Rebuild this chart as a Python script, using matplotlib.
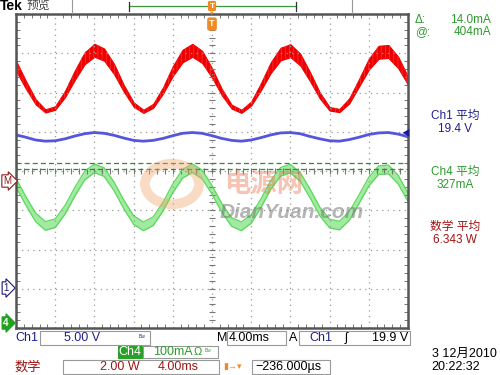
import numpy as np
import matplotlib
matplotlib.use("Agg")
import matplotlib.pyplot as plt
from matplotlib.patches import Rectangle, Circle

plt.rcParams['font.family'] = ['Liberation Sans', 'Noto Sans CJK SC', 'DejaVu Sans']
plt.rcParams['hatch.linewidth'] = 0.5

# time axis in divisions (4.00ms/div), one sample every 0.25 div
t_div = [i * 0.25 for i in range(41)]

# Ch1 trace (red, noisy band) upper / lower edge, in divisions
red_hi = [2.81, 2.30, 1.83, 1.57, 1.65, 2.04, 2.56, 3.02, 3.24, 3.12, 2.73,
          2.19, 1.75, 1.56, 1.71, 2.13, 2.67, 3.09, 3.24, 3.06, 2.62,
          2.09, 1.69, 1.56, 1.77, 2.24, 2.77, 3.14, 3.23, 2.99, 2.52,
          2.00, 1.63, 1.58, 1.85, 2.34, 2.86, 3.19, 3.21, 2.91, 2.40]
red_lo = [2.55, 2.10, 1.70, 1.49, 1.56, 1.88, 2.32, 2.72, 2.91, 2.81, 2.47,
          2.02, 1.64, 1.48, 1.61, 1.97, 2.42, 2.77, 2.91, 2.75, 2.38,
          1.93, 1.59, 1.48, 1.67, 2.06, 2.50, 2.82, 2.90, 2.69, 2.29,
          1.85, 1.54, 1.50, 1.72, 2.15, 2.58, 2.86, 2.88, 2.62, 2.20]

# blue trace
blue = [0.92, 0.86, 0.79, 0.76, 0.77, 0.82, 0.89, 0.95, 0.98, 0.96, 0.91,
        0.84, 0.78, 0.76, 0.78, 0.83, 0.90, 0.96, 0.98, 0.96, 0.90,
        0.83, 0.78, 0.76, 0.79, 0.85, 0.92, 0.97, 0.98, 0.95, 0.88,
        0.82, 0.77, 0.76, 0.80, 0.86, 0.93, 0.97, 0.98, 0.94, 0.87]

# Ch4 trace (green band) upper edge; lower edge 0.22 div below
green_hi = [-0.19, -0.65, -1.07, -1.29, -1.22, -0.88, -0.42, -0.01, 0.18, 0.08, -0.28,
            -0.74, -1.14, -1.30, -1.17, -0.80, -0.33, 0.04, 0.18, 0.02, -0.37,
            -0.83, -1.19, -1.30, -1.11, -0.71, -0.24, 0.09, 0.17, -0.04, -0.46,
            -0.92, -1.23, -1.28, -1.04, -0.61, -0.16, 0.13, 0.15, -0.11, -0.56]
green_lo = [v - 0.22 for v in green_hi]

cursor_levels = [0.20, 0.06]

W, H = 500, 375
fig = plt.figure(figsize=(5, 3.75), dpi=100)
fig.patch.set_facecolor('white')


def px(x, y):
    return x / W, 1 - y / H


def txt(x, y, s, **kw):
    kw.setdefault('va', 'center')
    kw.setdefault('ha', 'left')
    fig.text(x / W, 1 - y / H, s, **kw)


ax = fig.add_axes([16 / W, 1 - 328 / H, 392 / W, 314 / H])
ax.set_xlim(0, 10)
ax.set_ylim(-4, 4)
ax.set_xticks(np.arange(0, 11, 1))
ax.set_yticks(np.arange(-4, 5, 1))
ax.set_xticks(np.arange(0, 10.01, 0.2), minor=True)
ax.set_yticks(np.arange(-4, 4.01, 0.2), minor=True)
ax.tick_params(which='both', direction='in', top=True, right=True,
               labelbottom=False, labelleft=False, color='#777777')
ax.tick_params(which='major', length=0)
ax.tick_params(which='minor', length=3, width=0.7)
ax.grid(True, which='major', color='#999999', linestyle=(0, (1, 3.5)), linewidth=0.9)
for s in ax.spines.values():
    s.set_color('#555555')
    s.set_linewidth(1.8)

# centre crosshair tick marks
cx = np.arange(0, 10.01, 0.2)
cy = np.arange(-4, 4.01, 0.2)
ax.plot(cx, np.zeros_like(cx), '|', color='#777777', ms=4, mew=0.8)
ax.plot(np.full_like(cy, 5.0), cy, '_', color='#777777', ms=4, mew=0.8)

# watermark
ring = Circle(px(172, 184), 27 / W, transform=fig.transFigure, fill=False,
              ec='#f2a36b', lw=7, alpha=0.4)
fig.patches.append(ring)
txt(264, 185, '电源网', ha='center', fontsize=19, color='#ee7a55', alpha=0.45,
    fontweight='bold', style='italic')
txt(292, 212, 'DianYuan.com', ha='center', fontsize=15, color='#777777', alpha=0.55,
    fontweight='bold', style='italic')

# traces
ax.fill_between(t_div, red_lo, red_hi, color='#ee0000', lw=0.8, ec='#ee0000')
ax.fill_between(t_div, red_lo, red_hi, fc='none', ec='#ff3a3a', lw=0, hatch='||||')
ax.plot(t_div, blue, color='#5555dd', lw=2)
ax.fill_between(t_div, green_lo, green_hi, color='#a2eaa2', lw=0)
ax.plot(t_div, green_hi, color='#5ad85a', lw=0.9)
ax.plot(t_div, green_lo, color='#5ad85a', lw=0.9)
for lvl in cursor_levels:
    ax.axhline(lvl, color='#2e8b2e', ls=(0, (4, 2.5)), lw=0.9)

# trigger marker inside plot
txt(212, 24, 'T', ha='center', fontsize=6.5, color='white', fontweight='bold',
    bbox=dict(boxstyle='round,pad=0.15', fc='#f08a24', ec='#f08a24'))

# left channel markers
txt(7, 181, 'M', ha='center', fontsize=7, color='#8b1a1a',
    bbox=dict(boxstyle='rarrow,pad=0.12', fc='white', ec='#8b1a1a', lw=0.8))
txt(6, 288, '1', ha='center', fontsize=7, color='#1a1a70',
    bbox=dict(boxstyle='rarrow,pad=0.12', fc='white', ec='#1a1a70', lw=0.8))
txt(6, 323, '4', ha='center', fontsize=7, color='white', fontweight='bold',
    bbox=dict(boxstyle='rarrow,pad=0.12', fc='#22a022', ec='#22a022', lw=0.8))
txt(406, 133, '◀', ha='center', fontsize=6, color='#1a1aa0')

# top bar
txt(0, 6, 'Tek', fontsize=10, fontweight='bold', color='black')
txt(27, 6, '预览', fontsize=8.5, color='#444444')
fig.add_artist(plt.Line2D([72 / W, 72 / W], [1 - 0 / H, 1 - 13 / H], color='#999999', lw=0.8))
fig.add_artist(plt.Line2D([352 / W, 352 / W], [1 - 0 / H, 1 - 13 / H], color='#999999', lw=0.8))
fig.add_artist(plt.Line2D([129 / W, 296 / W], [1 - 6 / H, 1 - 6 / H], color='#3c9a3c', lw=0.9))
fig.add_artist(plt.Line2D([129 / W, 129 / W], [1 - 2 / H, 1 - 11 / H], color='#333333', lw=0.9))
fig.add_artist(plt.Line2D([296 / W, 296 / W], [1 - 2 / H, 1 - 11 / H], color='#333333', lw=0.9))
txt(212, 6, 'T', ha='center', fontsize=6, color='white', fontweight='bold',
    bbox=dict(boxstyle='round,pad=0.1', fc='#f08a24', ec='#f08a24'))
txt(212, 13, '▼', ha='center', fontsize=4, color='#f08a24')

# right panel readouts
green_t = '#2f9a2f'
blue_t = '#1f1f8f'
red_t = '#a01515'
txt(415, 20, 'Δ:', fontsize=8.5, color=green_t)
txt(491, 20, '14.0mA', ha='right', fontsize=8.5, color=green_t)
txt(415, 32, '@:', fontsize=8.5, color=green_t)
txt(491, 32, '404mA', ha='right', fontsize=8.5, color=green_t)
txt(455, 116, 'Ch1 平均', ha='center', fontsize=8.5, color=blue_t)
txt(455, 129, '19.4 V', ha='center', fontsize=8.5, color=blue_t)
txt(455, 172, 'Ch4 平均', ha='center', fontsize=8.5, color=green_t)
txt(455, 185, '327mA', ha='center', fontsize=8.5, color=green_t)
txt(455, 227, '数学 平均', ha='center', fontsize=8.5, color=red_t)
txt(455, 240, '6.343 W', ha='center', fontsize=8.5, color=red_t)


def box(x0, y0, x1, y1, fc='white', ec='#999999'):
    fig.patches.append(Rectangle(px(x0, y1), (x1 - x0) / W, (y1 - y0) / H,
                                 transform=fig.transFigure, fc=fc, ec=ec, lw=0.8))


# bottom status rows
box(40, 331, 150, 345)
txt(15, 338, 'Ch1', fontsize=9, color=blue_t)
txt(82, 338, '5.00 V', ha='center', fontsize=9, color=blue_t)
txt(139, 336, 'Bw', fontsize=3.5, color=blue_t)
txt(222, 338, 'M', ha='center', fontsize=9, color='black')
box(227, 331, 286, 345)
txt(229, 338, '4.00ms', fontsize=9, color='black')
txt(293, 338, 'A', ha='center', fontsize=9, color='black')
box(299, 331, 410, 345)
txt(309, 338, 'Ch1', fontsize=9, color=blue_t)
txt(345, 338, 'ʃ', fontsize=9, color='black')
txt(408, 338, '19.9 V', ha='right', fontsize=9, color='black')

box(118, 346, 142, 358, fc='#2aa02a', ec='#2aa02a')
txt(130, 352, 'Ch4', ha='center', fontsize=9, color='white')
box(143, 346, 218, 358)
txt(153, 352, '100mA', fontsize=9, color=green_t)
txt(194, 352, 'Ω', fontsize=8, color=green_t)
txt(205, 351, 'Bw', fontsize=3.5, color=green_t)

txt(14, 367, '数学', fontsize=9.5, color=red_t)
box(63, 360, 219, 374)
txt(120, 367, '2.00 W', ha='center', fontsize=9, color=red_t)
txt(199, 367, '4.00ms', ha='right', fontsize=9, color=red_t)
txt(223, 366, '▮→▾', fontsize=6.5, color='#f08a24')
box(252, 360, 330, 374)
txt(255, 367, '−236.000µs', fontsize=9, color='black')
txt(497, 354, '3 12月2010', ha='right', fontsize=9, color='black')
txt(480, 367, '20:22:32', ha='right', fontsize=9, color='black')

fig.savefig('out.png', dpi=100, facecolor='white')
